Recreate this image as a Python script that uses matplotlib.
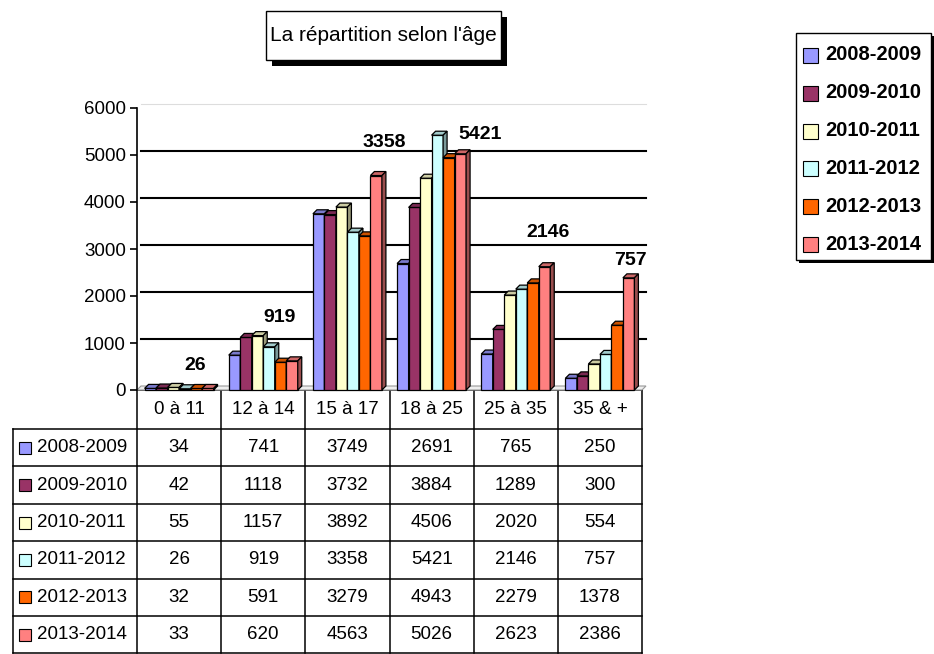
import matplotlib.pyplot as plt
from matplotlib.patches import Polygon, Rectangle
from matplotlib.colors import to_rgb

plt.rcParams['font.family'] = ['Liberation Sans', 'DejaVu Sans']

categories = ['0 à 11', '12 à 14', '15 à 17', '18 à 25', '25 à 35', '35 & +']
seasons = ['2008-2009', '2009-2010', '2010-2011', '2011-2012', '2012-2013', '2013-2014']
values = [
    [34, 741, 3749, 2691, 765, 250],
    [42, 1118, 3732, 3884, 1289, 300],
    [55, 1157, 3892, 4506, 2020, 554],
    [26, 919, 3358, 5421, 2146, 757],
    [32, 591, 3279, 4943, 2279, 1378],
    [33, 620, 4563, 5026, 2623, 2386],
]
colors = ['#9999FF', '#993366', '#FFFFCC', '#CCFFFF', '#FF6600', '#FF8080']
labelled = 3  # only the 2011-2012 series carries data labels
yticks = [0, 1000, 2000, 3000, 4000, 5000, 6000]

W, H = 934, 654
fig = plt.figure(figsize=(W / 100, H / 100), dpi=100)

# plot area in pixels
left, right, top, bottom = 137, 642, 108, 390
ax = fig.add_axes([left / W, 1 - bottom / H, (right - left) / W, (bottom - top) / H])
ax.set_xlim(0, len(categories))
ax.set_ylim(0, 6000)
ax.patch.set_alpha(0)
for s in ['top', 'right', 'bottom']:
    ax.spines[s].set_visible(False)
ax.spines['left'].set_linewidth(1.2)
ax.set_xticks([])
ax.set_yticks(yticks)
ax.tick_params(axis='y', length=5, width=1.2, pad=3, labelsize=13.5)

cat_px = (right - left) / len(categories)
ddx = 4 / cat_px                 # depth of the 3D effect in data units
ddy = 4 * 6000 / (bottom - top)

# floor
ax.add_patch(Polygon([(0, 0), (ddx, ddy), (6 + ddx, ddy), (6, 0)], closed=True,
                     facecolor='#eeeeee', edgecolor='#999999', lw=0.8, zorder=1, clip_on=False))
# gridlines on the back wall
for y in yticks[1:]:
    ax.plot([ddx, 6 + ddx], [y + ddy, y + ddy], color='#dddddd' if y == 6000 else 'black',
            lw=0.8 if y == 6000 else 1.5, zorder=1, clip_on=False)


def shade(c, f):
    r, g, b = to_rgb(c)
    return (r * f, g * f, b * f)


bw = 0.1366
for j, (name, vals) in enumerate(zip(seasons, values)):
    xs = [i + 0.5 + (j - 2.5) * bw for i in range(len(categories))]
    bars = ax.bar(xs, vals, width=bw, color=colors[j], edgecolor='black', lw=0.9, zorder=3 + j,
                  clip_on=False)
    for b in bars:
        x0, x1, h = b.get_x(), b.get_x() + b.get_width(), b.get_height()
        ax.add_patch(Polygon([(x0, h), (x0 + ddx, h + ddy), (x1 + ddx, h + ddy), (x1, h)],
                             closed=True, facecolor=shade(colors[j], 0.8), edgecolor='black',
                             lw=0.9, zorder=3 + j, clip_on=False))
        ax.add_patch(Polygon([(x1, 0), (x1 + ddx, ddy), (x1 + ddx, h + ddy), (x1, h)],
                             closed=True, facecolor=shade(colors[j], 0.6), edgecolor='black',
                             lw=0.9, zorder=3 + j, clip_on=False))

# data labels for 2011-2012 (Excel placed them loosely)
lab_dx = [10, 11, 31, 43, 27, 25]
lab_dy = [23, 29, 90, 1, 57, 94]
for i, v in enumerate(values[labelled]):
    xc = i + 0.5 + (labelled - 2.5) * bw
    ax.annotate(str(v), (xc, v), xytext=(lab_dx[i], lab_dy[i]), textcoords='offset pixels',
                ha='center', va='center', fontsize=14, fontweight='bold', zorder=20,
                annotation_clip=False)

# overlay in pixel coordinates: table, legend, title
ov = fig.add_axes([0, 0, 1, 1], zorder=-1)
ov.set_xlim(0, W)
ov.set_ylim(H, 0)
ov.axis('off')

col_x = [left + k * cat_px for k in range(len(categories) + 1)]
head_bot = 429
row_h = 37.4
row_y = [head_bot + k * row_h for k in range(len(seasons) + 1)]
tl = 1.1
ov.plot([left, right], [bottom, bottom], color='black', lw=tl)
for y in row_y:
    ov.plot([13, right], [y, y], color='black', lw=tl)
ov.plot([13, 13], [head_bot, row_y[-1]], color='black', lw=tl)
for x in col_x:
    ov.plot([x, x], [bottom, row_y[-1]], color='black', lw=tl)

for i, c in enumerate(categories):
    ov.text((col_x[i] + col_x[i + 1]) / 2, (bottom + head_bot) / 2, c, ha='center',
            va='center', fontsize=13.5)
for j, name in enumerate(seasons):
    yc = (row_y[j] + row_y[j + 1]) / 2
    ov.add_patch(Rectangle((19, yc - 6), 12, 12, facecolor=colors[j], edgecolor='black', lw=0.8))
    ov.text(37, yc, name, ha='left', va='center', fontsize=13.5)
    for i, v in enumerate(values[j]):
        ov.text((col_x[i] + col_x[i + 1]) / 2, yc, str(v), ha='center', va='center',
                fontsize=13.5)

# legend box with shadow
lx0, lx1, ly0, ly1 = 796, 931, 33, 260
ov.add_patch(Rectangle((lx0 + 3, ly0 + 3), lx1 - lx0, ly1 - ly0, facecolor='black', lw=0))
ov.add_patch(Rectangle((lx0, ly0), lx1 - lx0, ly1 - ly0, facecolor='white', edgecolor='black', lw=1))
for j, name in enumerate(seasons):
    yc = 55 + j * 37.8
    ov.add_patch(Rectangle((803, yc - 7), 15, 15, facecolor=colors[j], edgecolor='black', lw=0.8))
    ov.text(825, yc, name, ha='left', va='center', fontsize=14.5, fontweight='bold')

# title box with shadow
tx0, tx1, ty0, ty1 = 266, 501, 11, 60
ov.add_patch(Rectangle((tx0 + 6, ty0 + 6), tx1 - tx0, ty1 - ty0, facecolor='black', lw=0))
ov.add_patch(Rectangle((tx0, ty0), tx1 - tx0, ty1 - ty0, facecolor='white', edgecolor='black', lw=1))
ov.text((tx0 + tx1) / 2, (ty0 + ty1) / 2, "La répartition selon l'âge", ha='center',
        va='center', fontsize=15)

fig.savefig('out.png', dpi=100)
